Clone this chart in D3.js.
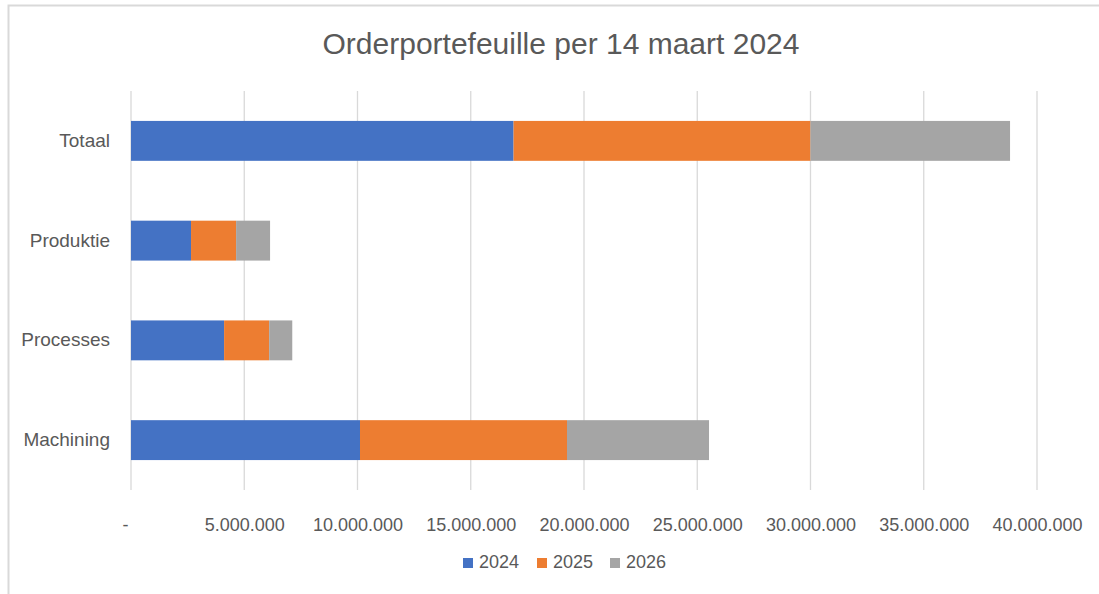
<!DOCTYPE html>
<html>
<head>
<meta charset="utf-8">
<script src="https://cdn.jsdelivr.net/npm/d3@7"></script>
<style>
  body { margin: 0; background: #fff; }
  text { font-family: "Liberation Sans", Arial, sans-serif; fill: #595959; }
</style>
</head>
<body>
<script>
(function() {

    var width = 1099;
    var height = 594;

    // data (in millions)
    const categories = ["Totaal", "Produktie", "Processes", "Machining"];
    const years = ["2024", "2025", "2026"];
    const values2024 = [16.89, 2.65, 4.11, 10.11];
    const values2025 = [13.11, 1.99, 1.99, 9.14];
    const values2026 = [8.81, 1.50, 1.02, 6.27];
    const tickValues = [0, 5, 10, 15, 20, 25, 30, 35, 40];
    const colors = ["#4472C4", "#ED7D31", "#A5A5A5"];

    const title = "Orderportefeuille per 14 maart 2024";

    // build rows for the stack
    const rows = categories.map((c, i) => ({
        category: c,
        "2024": values2024[i] * 1e6,
        "2025": values2025[i] * 1e6,
        "2026": values2026[i] * 1e6
    }));

    const svg = d3.select("body")
      .append("svg")
      .attr("width", width)
      .attr("height", height);

    //chart border
    svg.append("rect")
        .attr("x", 8.5)
        .attr("y", 5.5)
        .attr("width", 1200)
        .attr("height", 700)
        .attr("fill", "none")
        .attr("stroke", "#d9d9d9")
        .attr("stroke-width", 2);

    //scales
    const x = d3.scaleLinear()
        .domain([0, 40e6])
        .range([131, 1037]);

    const y = d3.scaleBand()
        .domain(categories)
        .range([91, 490])
        .paddingInner(0.6)
        .paddingOuter(0.3);

    const color = d3.scaleOrdinal().domain(years).range(colors);

    const nl = d3.formatLocale({ decimal: ",", thousands: ".", grouping: [3], currency: ["€", ""] });
    const fmt = v => v === 0 ? "-" : nl.format(",.0f")(v);

    //gridlines
    svg.append("g")
        .selectAll("line")
        .data(tickValues)
        .join("line")
        .attr("x1", d => x(d * 1e6))
        .attr("x2", d => x(d * 1e6))
        .attr("y1", 91)
        .attr("y2", 490)
        .attr("stroke", "#d9d9d9")
        .attr("stroke-width", 1.3);

    //bars
    const stack = d3.stack().keys(years)(rows);

    svg.append("g")
        .selectAll("g")
        .data(stack)
        .join("g")
        .attr("fill", d => color(d.key))
        .selectAll("rect")
        .data(d => d)
        .join("rect")
        .attr("x", d => x(d[0]))
        .attr("width", d => x(d[1]) - x(d[0]))
        .attr("y", d => y(d.data.category))
        .attr("height", y.bandwidth());

    //x axis labels
    const xAxis = svg.append("g")
        .attr("transform", "translate(0,490)")
        .call(d3.axisBottom(x)
            .tickValues(tickValues.map(d => d * 1e6))
            .tickFormat(fmt)
            .tickSize(0)
            .tickPadding(28));
    xAxis.select(".domain").remove();
    xAxis.selectAll("text")
        .attr("fill", "#595959")
        .style("font-size", "18px")
        .style("font-family", "'Liberation Sans', Arial, sans-serif");
    xAxis.selectAll(".tick").filter(d => d === 0).select("text").attr("dx", -6);

    //y axis labels
    const yAxis = svg.append("g")
        .attr("transform", "translate(131,0)")
        .call(d3.axisLeft(y).tickSize(0).tickPadding(21));
    yAxis.select(".domain").remove();
    yAxis.selectAll("text")
        .attr("fill", "#595959")
        .style("font-size", "19px")
        .style("font-family", "'Liberation Sans', Arial, sans-serif");

    //title
    svg.append("text")
        .attr("x", 561)
        .attr("y", 54)
        .attr("text-anchor", "middle")
        .style("font-size", "30px")
        .text(title);

    //legend
    const legendX = [463, 537, 610];
    const legend = svg.append("g")
        .selectAll("g")
        .data(years)
        .join("g")
        .attr("transform", (d, i) => "translate(" + legendX[i] + ",558)");

    legend.append("rect")
        .attr("width", 10)
        .attr("height", 10)
        .attr("fill", d => color(d));

    legend.append("text")
        .attr("x", 16)
        .attr("y", 10)
        .style("font-size", "18px")
        .text(d => d);

})();
</script>
</body>
</html>
